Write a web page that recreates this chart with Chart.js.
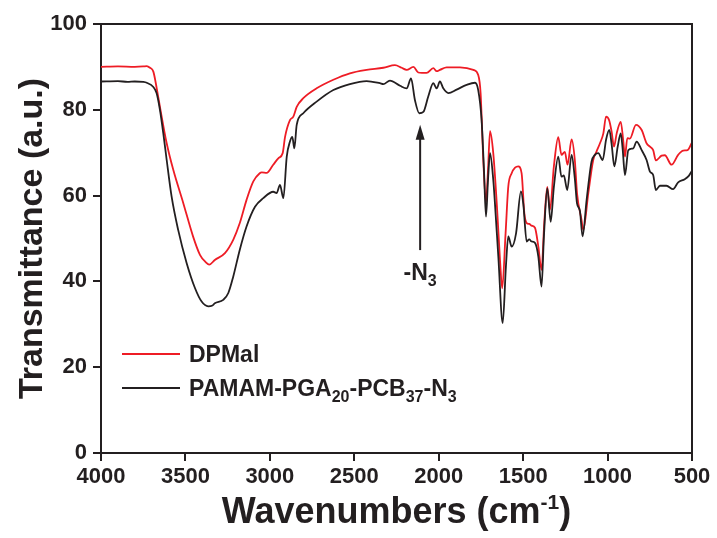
<!DOCTYPE html>
<html><head><meta charset="utf-8">
<script src="https://cdn.jsdelivr.net/npm/chart.js@4/dist/chart.umd.min.js"></script>
<style>html,body{margin:0;padding:0;background:#fff}</style>
</head><body>
<canvas id="c" width="717" height="538"></canvas>
<script>
// ---- data ----
const dpmalWn = [4000,3900,3800,3750,3729,3710,3690,3670,3651,3611,3572,3513,3455,3414,3380,3359,3326,3266,3217,3178,3138,3098,3060,3048,3019,2980,2950,2924,2910,2881,2861,2841,2802,2723,2624,2526,2427,2328,2259,2220,2190,2150,2121,2100,2072,2032,2012,1993,1953,1874,1795,1766,1752,1736,1720,1708,1696,1677,1654,1637,1624,1604,1588,1568,1548,1529,1509,1493,1479,1464,1450,1430,1410,1391,1375,1357,1341,1318,1292,1273,1253,1237,1213,1194,1181,1154,1144,1114,1085,1065,1045,1025,1009,991,976,962,946,922,907,897,883,868,832,798,769,749,730,714,680,661,621,582,552,526,500];
const dpmalT  = [90.0,90.1,90.0,90.1,90.2,89.8,88.9,85.0,80.7,72.2,66.0,58.3,50.5,46.2,44.5,43.9,45.0,46.6,49.7,53.6,59.0,63.3,65.2,65.4,65.3,67.2,68.7,69.9,73.7,77.6,78.4,80.7,82.7,85.0,87.0,88.5,89.3,89.8,90.4,89.8,89.3,90.0,88.7,88.6,88.6,89.7,89.0,89.3,89.9,89.9,89.3,88.1,83.9,68.3,58.5,66.0,75.0,69.9,56.7,45.0,38.4,51.2,62.1,65.2,66.5,66.8,65.2,55.9,53.6,53.4,53.0,52.5,48.1,42.7,53.6,62.0,56.7,66.8,73.6,69.5,70.2,67.2,73.1,68.3,60.6,54.3,52.0,60.6,68.3,70.3,72.2,74.5,78.4,77.6,74.9,71.4,74.5,77.2,72.7,69.1,73.4,73.3,76.5,75.3,72.2,71.4,70.6,68.2,69.3,69.4,67.2,69.5,70.5,70.6,72.4];
const pamamWn = [4000,3900,3843,3800,3750,3729,3690,3671,3651,3631,3611,3582,3543,3493,3443,3404,3365,3340,3326,3276,3246,3217,3178,3138,3088,3039,2980,2960,2940,2920,2900,2881,2867,2855,2841,2802,2723,2624,2526,2427,2348,2328,2289,2229,2190,2164,2141,2115,2091,2062,2032,2012,1993,1973,1943,1894,1835,1785,1766,1746,1732,1720,1708,1696,1677,1667,1647,1621,1602,1588,1568,1542,1513,1499,1479,1464,1450,1430,1410,1391,1377,1357,1337,1318,1292,1273,1259,1239,1213,1194,1181,1164,1148,1124,1095,1075,1055,1029,1009,990,976,960,940,922,911,897,877,848,828,798,769,749,730,714,690,651,612,582,543,519,500];
const pamamT  = [86.6,86.7,86.5,86.6,86.5,86.3,85.3,83.9,80.0,74.5,68.3,59.8,52.0,44.3,38.4,35.3,34.2,34.4,34.9,35.7,37.3,41.1,47.4,52.8,57.4,59.4,60.9,60.6,62.5,59.4,69.1,72.6,73.7,71.0,76.5,79.2,81.9,84.6,86.0,86.7,86.2,86.0,86.8,85.6,85.0,87.3,82.3,79.2,79.5,83.1,86.2,85.0,86.6,85.0,83.9,84.7,85.8,86.3,84.6,77.6,66.0,55.1,63.7,69.9,63.7,58.2,45.8,30.3,43.5,50.5,48.1,51.2,61.0,58.0,49.3,49.8,49.3,49.0,45.8,38.8,50.5,61.7,53.9,62.0,69.1,64.4,64.7,61.3,69.5,64.0,58.2,56.5,50.5,59.0,67.9,69.5,69.9,68.3,73.0,75.3,72.0,66.8,71.4,74.5,71.0,64.8,70.6,71.0,72.6,70.6,68.3,65.6,64.8,61.3,62.3,62.3,61.5,63.1,63.8,64.6,65.8];
const xTicks = [4000,3500,3000,2500,2000,1500,1000,500];
const yTicks = [0,20,40,60,80,100];
const seriesNames = ['DPMal', 'PAMAM-PGA20-PCB37-N3'];
const xTitle = 'Wavenumbers (cm-1)';
const yTitle = 'Transmittance (a.u.)';
const annoLabel = '-N3';
const annoWn = 2110;

const INK = '#231f20', RED = '#ee1c25';
const FAM = '"Liberation Sans", Arial, Helvetica, sans-serif';
const toPts = (xs, ys) => xs.map((x, i) => ({x, y: ys[i]}));

// draw text consisting of [text, 'n'|'sub'|'sup'] segments
function segWidth(ctx, segs, size, small) {
  let w = 0;
  for (const [t, k] of segs) {
    ctx.font = 'bold ' + (k === 'n' ? size : small) + 'px ' + FAM;
    w += ctx.measureText(t).width;
  }
  return w;
}
function drawSegs(ctx, segs, x, y, size, small, shiftSub, shiftSup) {
  for (const [t, k] of segs) {
    ctx.font = 'bold ' + (k === 'n' ? size : small) + 'px ' + FAM;
    const dy = k === 'sub' ? shiftSub : (k === 'sup' ? -shiftSup : 0);
    ctx.fillText(t, x, y + dy);
    x += ctx.measureText(t).width;
  }
}

const deco = {
  id: 'deco',
  afterDraw(chart) {
    const {ctx, chartArea: a, scales} = chart;
    ctx.save();
    // top and right frame
    ctx.strokeStyle = INK; ctx.lineWidth = 2;
    ctx.beginPath();
    ctx.moveTo(a.left, a.top); ctx.lineTo(a.right, a.top); ctx.lineTo(a.right, a.bottom);
    ctx.stroke();
    ctx.fillStyle = INK;
    ctx.textBaseline = 'alphabetic';
    // y title
    ctx.save();
    ctx.translate(42, (a.top + a.bottom) / 2);
    ctx.rotate(-Math.PI / 2);
    ctx.font = 'bold 34px ' + FAM;
    ctx.textAlign = 'center';
    ctx.fillText(yTitle, 0, 0);
    ctx.restore();
    // x title with superscript
    ctx.textAlign = 'left';
    const xs = [['Wavenumbers (cm', 'n'], ['-1', 'sup'], [')', 'n']];
    const wx = segWidth(ctx, xs, 36, 21);
    drawSegs(ctx, xs, (a.left + a.right) / 2 - wx / 2, 523, 36, 21, 0, 14);
    // legend
    const lg = [
      {color: RED, y: 354, segs: [['DPMal', 'n']]},
      {color: INK, y: 388, segs: [['PAMAM-PGA', 'n'], ['20', 'sub'], ['-PCB', 'n'], ['37', 'sub'], ['-N', 'n'], ['3', 'sub']]}
    ];
    for (const it of lg) {
      ctx.strokeStyle = it.color; ctx.lineWidth = 1.8;
      ctx.beginPath(); ctx.moveTo(122, it.y); ctx.lineTo(180, it.y); ctx.stroke();
      ctx.fillStyle = INK;
      drawSegs(ctx, it.segs, 189, it.y + 8, 23, 16, 6, 0);
    }
    // annotation arrow
    const ax = scales.x.getPixelForValue(annoWn);
    const yTip = scales.y.getPixelForValue(76.5), yBot = scales.y.getPixelForValue(47.3);
    ctx.strokeStyle = INK; ctx.lineWidth = 2;
    ctx.beginPath(); ctx.moveTo(ax, yBot); ctx.lineTo(ax, yTip + 10); ctx.stroke();
    ctx.beginPath(); ctx.moveTo(ax, yTip); ctx.lineTo(ax - 4.5, yTip + 15); ctx.lineTo(ax + 4.5, yTip + 15); ctx.closePath(); ctx.fill();
    const an = [['-N', 'n'], ['3', 'sub']];
    const wa = segWidth(ctx, an, 23, 16);
    drawSegs(ctx, an, ax - wa / 2, scales.y.getPixelForValue(40.4), 23, 16, 6, 0);
    ctx.restore();
  }
};

const tickFont = {family: FAM, size: 22, weight: 'bold'};
new Chart(document.getElementById('c'), {
  type: 'line',
  data: {
    datasets: [
      {label: seriesNames[1], data: toPts(pamamWn, pamamT), borderColor: INK, borderWidth: 1.8, pointRadius: 0, cubicInterpolationMode: 'monotone', order: 1},
      {label: seriesNames[0], data: toPts(dpmalWn, dpmalT), borderColor: RED, borderWidth: 1.8, pointRadius: 0, cubicInterpolationMode: 'monotone', order: 2}
    ]
  },
  options: {
    responsive: false, animation: false, devicePixelRatio: 1,
    layout: {padding: {top: 24, right: 25, left: 0, bottom: 0}},
    plugins: {legend: {display: false}, tooltip: {enabled: false}},
    scales: {
      x: {
        type: 'linear', reverse: true, min: 500, max: 4000,
        afterBuildTicks: s => { s.ticks = xTicks.map(v => ({value: v})); },
        afterFit: s => { s.height = 85; },
        ticks: {font: tickFont, color: INK, padding: 3, maxRotation: 0, autoSkip: false, callback: v => String(v)},
        grid: {drawOnChartArea: false, drawTicks: true, tickLength: 8, color: INK, lineWidth: 2},
        border: {display: true, color: INK, width: 2}
      },
      y: {
        min: 0, max: 100,
        afterBuildTicks: s => { s.ticks = yTicks.map(v => ({value: v})); },
        afterFit: s => { s.width = 101; },
        ticks: {font: tickFont, color: INK, padding: 6, callback: v => String(v)},
        grid: {drawOnChartArea: false, drawTicks: true, tickLength: 8, color: INK, lineWidth: 2},
        border: {display: true, color: INK, width: 2}
      }
    }
  },
  plugins: [deco]
});
</script>
</body></html>
